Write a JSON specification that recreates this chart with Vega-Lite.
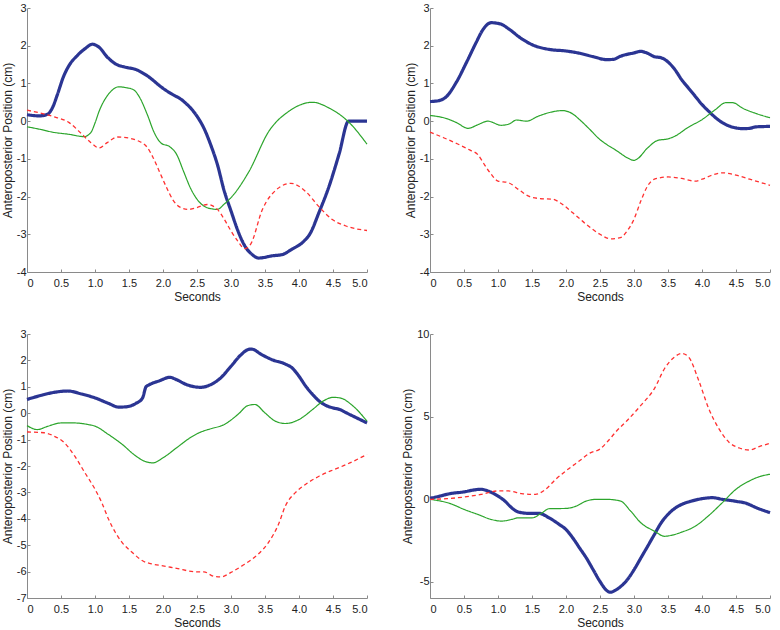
{
"$schema": "https://vega.github.io/schema/vega-lite/v6.json",
"padding": {"left": 1, "top": 2, "right": 5, "bottom": 0},
"config": {
  "view": {"stroke": null},
  "font": "Liberation Sans",
  "axis": {"domainColor": "#8a8a8a", "tickColor": "#8a8a8a", "tickSize": -3, "labelFont": "Liberation Sans", "labelFontSize": 11, "labelColor": "#222", "titleFont": "Liberation Sans", "titleFontSize": 12, "titleFontWeight": "normal", "titleColor": "#222", "grid": false, "labelPadding": 4, "titlePadding": 2},
  "axisX": {"labelPadding": 8, "titlePadding": 3}
},
"columns": 2,
"spacing": {"row": 26, "column": 27},
"datasets": {
"p1": [
{"t":0,"v":0.17,"s":"b"},{"t":0.18,"v":0.14,"s":"b"},{"t":0.3,"v":0.18,"s":"b"},{"t":0.37,"v":0.34,"s":"b"},{"t":0.45,"v":0.72,"s":"b"},{"t":0.53,"v":1.15,"s":"b"},{"t":0.62,"v":1.48,"s":"b"},{"t":0.74,"v":1.74,"s":"b"},{"t":0.86,"v":1.93,"s":"b"},{"t":0.96,"v":2.04,"s":"b"},{"t":1.06,"v":1.96,"s":"b"},{"t":1.18,"v":1.7,"s":"b"},{"t":1.3,"v":1.52,"s":"b"},{"t":1.45,"v":1.43,"s":"b"},{"t":1.6,"v":1.37,"s":"b"},{"t":1.77,"v":1.2,"s":"b"},{"t":2.0,"v":0.87,"s":"b"},{"t":2.1,"v":0.75,"s":"b"},{"t":2.3,"v":0.53,"s":"b"},{"t":2.5,"v":0.13,"s":"b"},{"t":2.6,"v":-0.18,"s":"b"},{"t":2.7,"v":-0.62,"s":"b"},{"t":2.8,"v":-1.15,"s":"b"},{"t":2.9,"v":-1.85,"s":"b"},{"t":3.0,"v":-2.38,"s":"b"},{"t":3.1,"v":-2.9,"s":"b"},{"t":3.2,"v":-3.3,"s":"b"},{"t":3.3,"v":-3.52,"s":"b"},{"t":3.41,"v":-3.63,"s":"b"},{"t":3.61,"v":-3.57,"s":"b"},{"t":3.75,"v":-3.54,"s":"b"},{"t":3.9,"v":-3.39,"s":"b"},{"t":4.05,"v":-3.22,"s":"b"},{"t":4.17,"v":-2.96,"s":"b"},{"t":4.29,"v":-2.44,"s":"b"},{"t":4.44,"v":-1.74,"s":"b"},{"t":4.59,"v":-0.87,"s":"b"},{"t":4.73,"v":0,"s":"b"},{"t":5.0,"v":0,"s":"b"},
{"t":0,"v":-0.15,"s":"g"},{"t":0.2,"v":-0.22,"s":"g"},{"t":0.37,"v":-0.29,"s":"g"},{"t":0.62,"v":-0.35,"s":"g"},{"t":0.84,"v":-0.41,"s":"g"},{"t":0.94,"v":-0.3,"s":"g"},{"t":1.0,"v":-0.05,"s":"g"},{"t":1.06,"v":0.26,"s":"g"},{"t":1.21,"v":0.74,"s":"g"},{"t":1.35,"v":0.91,"s":"g"},{"t":1.45,"v":0.89,"s":"g"},{"t":1.57,"v":0.83,"s":"g"},{"t":1.65,"v":0.65,"s":"g"},{"t":1.77,"v":0.17,"s":"g"},{"t":1.87,"v":-0.3,"s":"g"},{"t":1.97,"v":-0.58,"s":"g"},{"t":2.1,"v":-0.68,"s":"g"},{"t":2.2,"v":-0.88,"s":"g"},{"t":2.3,"v":-1.32,"s":"g"},{"t":2.4,"v":-1.76,"s":"g"},{"t":2.5,"v":-2.07,"s":"g"},{"t":2.6,"v":-2.25,"s":"g"},{"t":2.7,"v":-2.32,"s":"g"},{"t":2.8,"v":-2.34,"s":"g"},{"t":2.9,"v":-2.2,"s":"g"},{"t":3.0,"v":-2.03,"s":"g"},{"t":3.26,"v":-1.35,"s":"g"},{"t":3.56,"v":-0.26,"s":"g"},{"t":3.85,"v":0.26,"s":"g"},{"t":4.2,"v":0.5,"s":"g"},{"t":4.44,"v":0.35,"s":"g"},{"t":4.74,"v":-0.04,"s":"g"},{"t":5.0,"v":-0.61,"s":"g"},
{"t":0,"v":0.29,"s":"r"},{"t":0.37,"v":0.13,"s":"r"},{"t":0.62,"v":-0.04,"s":"r"},{"t":0.81,"v":-0.35,"s":"r"},{"t":0.94,"v":-0.57,"s":"r"},{"t":1.06,"v":-0.71,"s":"r"},{"t":1.18,"v":-0.57,"s":"r"},{"t":1.33,"v":-0.42,"s":"r"},{"t":1.5,"v":-0.45,"s":"r"},{"t":1.63,"v":-0.52,"s":"r"},{"t":1.77,"v":-0.7,"s":"r"},{"t":1.85,"v":-0.95,"s":"r"},{"t":1.95,"v":-1.35,"s":"r"},{"t":2.05,"v":-1.75,"s":"r"},{"t":2.15,"v":-2.1,"s":"r"},{"t":2.25,"v":-2.28,"s":"r"},{"t":2.37,"v":-2.34,"s":"r"},{"t":2.5,"v":-2.29,"s":"r"},{"t":2.65,"v":-2.21,"s":"r"},{"t":2.8,"v":-2.34,"s":"r"},{"t":2.9,"v":-2.6,"s":"r"},{"t":3.0,"v":-2.91,"s":"r"},{"t":3.1,"v":-3.18,"s":"r"},{"t":3.2,"v":-3.38,"s":"r"},{"t":3.29,"v":-3.26,"s":"r"},{"t":3.46,"v":-2.35,"s":"r"},{"t":3.66,"v":-1.83,"s":"r"},{"t":3.88,"v":-1.65,"s":"r"},{"t":4.1,"v":-1.87,"s":"r"},{"t":4.29,"v":-2.26,"s":"r"},{"t":4.49,"v":-2.61,"s":"r"},{"t":4.69,"v":-2.78,"s":"r"},{"t":5.0,"v":-2.9,"s":"r"}
],
"p2": [
{"t":0,"v":0.52,"s":"b"},{"t":0.12,"v":0.54,"s":"b"},{"t":0.24,"v":0.65,"s":"b"},{"t":0.39,"v":1.04,"s":"b"},{"t":0.54,"v":1.57,"s":"b"},{"t":0.68,"v":2.09,"s":"b"},{"t":0.78,"v":2.43,"s":"b"},{"t":0.9,"v":2.61,"s":"b"},{"t":1.03,"v":2.58,"s":"b"},{"t":1.17,"v":2.43,"s":"b"},{"t":1.32,"v":2.22,"s":"b"},{"t":1.51,"v":2.02,"s":"b"},{"t":1.76,"v":1.9,"s":"b"},{"t":2.0,"v":1.86,"s":"b"},{"t":2.2,"v":1.8,"s":"b"},{"t":2.4,"v":1.71,"s":"b"},{"t":2.6,"v":1.63,"s":"b"},{"t":2.7,"v":1.64,"s":"b"},{"t":2.8,"v":1.72,"s":"b"},{"t":3.0,"v":1.81,"s":"b"},{"t":3.1,"v":1.85,"s":"b"},{"t":3.2,"v":1.8,"s":"b"},{"t":3.3,"v":1.71,"s":"b"},{"t":3.4,"v":1.68,"s":"b"},{"t":3.5,"v":1.57,"s":"b"},{"t":3.6,"v":1.37,"s":"b"},{"t":3.7,"v":1.1,"s":"b"},{"t":3.8,"v":0.88,"s":"b"},{"t":3.9,"v":0.66,"s":"b"},{"t":4.0,"v":0.44,"s":"b"},{"t":4.1,"v":0.26,"s":"b"},{"t":4.2,"v":0.09,"s":"b"},{"t":4.3,"v":-0.04,"s":"b"},{"t":4.4,"v":-0.13,"s":"b"},{"t":4.5,"v":-0.18,"s":"b"},{"t":4.6,"v":-0.2,"s":"b"},{"t":4.7,"v":-0.19,"s":"b"},{"t":4.8,"v":-0.15,"s":"b"},{"t":5.0,"v":-0.14,"s":"b"},
{"t":0,"v":0.15,"s":"g"},{"t":0.24,"v":0.07,"s":"g"},{"t":0.39,"v":-0.04,"s":"g"},{"t":0.56,"v":-0.19,"s":"g"},{"t":0.71,"v":-0.09,"s":"g"},{"t":0.85,"v":0,"s":"g"},{"t":1.05,"v":-0.11,"s":"g"},{"t":1.17,"v":-0.07,"s":"g"},{"t":1.27,"v":0.03,"s":"g"},{"t":1.42,"v":0,"s":"g"},{"t":1.59,"v":0.13,"s":"g"},{"t":1.76,"v":0.23,"s":"g"},{"t":1.95,"v":0.28,"s":"g"},{"t":2.1,"v":0.19,"s":"g"},{"t":2.2,"v":0.04,"s":"g"},{"t":2.35,"v":-0.22,"s":"g"},{"t":2.5,"v":-0.49,"s":"g"},{"t":2.6,"v":-0.62,"s":"g"},{"t":2.75,"v":-0.79,"s":"g"},{"t":2.9,"v":-0.97,"s":"g"},{"t":3.0,"v":-1.04,"s":"g"},{"t":3.05,"v":-1.0,"s":"g"},{"t":3.2,"v":-0.71,"s":"g"},{"t":3.35,"v":-0.51,"s":"g"},{"t":3.5,"v":-0.47,"s":"g"},{"t":3.6,"v":-0.4,"s":"g"},{"t":3.8,"v":-0.16,"s":"g"},{"t":4.0,"v":0.04,"s":"g"},{"t":4.2,"v":0.31,"s":"g"},{"t":4.35,"v":0.49,"s":"g"},{"t":4.45,"v":0.49,"s":"g"},{"t":4.6,"v":0.34,"s":"g"},{"t":4.8,"v":0.2,"s":"g"},{"t":5.0,"v":0.09,"s":"g"},
{"t":0,"v":-0.29,"s":"r"},{"t":0.2,"v":-0.44,"s":"r"},{"t":0.4,"v":-0.6,"s":"r"},{"t":0.59,"v":-0.77,"s":"r"},{"t":0.7,"v":-0.88,"s":"r"},{"t":0.8,"v":-1.15,"s":"r"},{"t":0.9,"v":-1.41,"s":"r"},{"t":1.0,"v":-1.59,"s":"r"},{"t":1.15,"v":-1.63,"s":"r"},{"t":1.3,"v":-1.81,"s":"r"},{"t":1.45,"v":-1.99,"s":"r"},{"t":1.6,"v":-2.05,"s":"r"},{"t":1.8,"v":-2.07,"s":"r"},{"t":1.95,"v":-2.21,"s":"r"},{"t":2.1,"v":-2.43,"s":"r"},{"t":2.3,"v":-2.74,"s":"r"},{"t":2.5,"v":-3.0,"s":"r"},{"t":2.65,"v":-3.12,"s":"r"},{"t":2.8,"v":-3.09,"s":"r"},{"t":2.9,"v":-2.91,"s":"r"},{"t":3.0,"v":-2.6,"s":"r"},{"t":3.1,"v":-2.12,"s":"r"},{"t":3.2,"v":-1.72,"s":"r"},{"t":3.3,"v":-1.54,"s":"r"},{"t":3.5,"v":-1.48,"s":"r"},{"t":3.7,"v":-1.52,"s":"r"},{"t":3.9,"v":-1.59,"s":"r"},{"t":4.0,"v":-1.54,"s":"r"},{"t":4.15,"v":-1.43,"s":"r"},{"t":4.3,"v":-1.37,"s":"r"},{"t":4.5,"v":-1.43,"s":"r"},{"t":4.7,"v":-1.54,"s":"r"},{"t":5.0,"v":-1.7,"s":"r"}
],
"p3": [
{"t":0,"v":0.52,"s":"b"},{"t":0.2,"v":0.67,"s":"b"},{"t":0.4,"v":0.79,"s":"b"},{"t":0.6,"v":0.84,"s":"b"},{"t":0.8,"v":0.73,"s":"b"},{"t":1.0,"v":0.58,"s":"b"},{"t":1.2,"v":0.37,"s":"b"},{"t":1.35,"v":0.23,"s":"b"},{"t":1.45,"v":0.24,"s":"b"},{"t":1.6,"v":0.37,"s":"b"},{"t":1.7,"v":0.58,"s":"b"},{"t":1.75,"v":1.0,"s":"b"},{"t":1.8,"v":1.08,"s":"b"},{"t":1.95,"v":1.23,"s":"b"},{"t":2.1,"v":1.36,"s":"b"},{"t":2.2,"v":1.27,"s":"b"},{"t":2.35,"v":1.08,"s":"b"},{"t":2.55,"v":0.98,"s":"b"},{"t":2.7,"v":1.08,"s":"b"},{"t":2.85,"v":1.34,"s":"b"},{"t":3.0,"v":1.78,"s":"b"},{"t":3.15,"v":2.22,"s":"b"},{"t":3.25,"v":2.41,"s":"b"},{"t":3.3,"v":2.43,"s":"b"},{"t":3.45,"v":2.22,"s":"b"},{"t":3.6,"v":2.03,"s":"b"},{"t":3.8,"v":1.86,"s":"b"},{"t":3.9,"v":1.71,"s":"b"},{"t":4.0,"v":1.4,"s":"b"},{"t":4.1,"v":1.02,"s":"b"},{"t":4.2,"v":0.71,"s":"b"},{"t":4.3,"v":0.45,"s":"b"},{"t":4.4,"v":0.29,"s":"b"},{"t":4.5,"v":0.2,"s":"b"},{"t":4.6,"v":0.14,"s":"b"},{"t":4.7,"v":0.01,"s":"b"},{"t":4.85,"v":-0.18,"s":"b"},{"t":5.0,"v":-0.37,"s":"b"},
{"t":0,"v":-0.47,"s":"g"},{"t":0.15,"v":-0.62,"s":"g"},{"t":0.3,"v":-0.5,"s":"g"},{"t":0.5,"v":-0.37,"s":"g"},{"t":0.7,"v":-0.37,"s":"g"},{"t":0.9,"v":-0.43,"s":"g"},{"t":1.0,"v":-0.49,"s":"g"},{"t":1.2,"v":-0.81,"s":"g"},{"t":1.4,"v":-1.18,"s":"g"},{"t":1.6,"v":-1.62,"s":"g"},{"t":1.75,"v":-1.84,"s":"g"},{"t":1.85,"v":-1.88,"s":"g"},{"t":2.0,"v":-1.69,"s":"g"},{"t":2.2,"v":-1.31,"s":"g"},{"t":2.4,"v":-0.93,"s":"g"},{"t":2.55,"v":-0.72,"s":"g"},{"t":2.7,"v":-0.59,"s":"g"},{"t":2.9,"v":-0.43,"s":"g"},{"t":3.1,"v":-0.05,"s":"g"},{"t":3.25,"v":0.29,"s":"g"},{"t":3.35,"v":0.33,"s":"g"},{"t":3.5,"v":0.01,"s":"g"},{"t":3.65,"v":-0.3,"s":"g"},{"t":3.8,"v":-0.39,"s":"g"},{"t":4.0,"v":-0.24,"s":"g"},{"t":4.2,"v":0.14,"s":"g"},{"t":4.35,"v":0.45,"s":"g"},{"t":4.5,"v":0.6,"s":"g"},{"t":4.6,"v":0.58,"s":"g"},{"t":4.8,"v":0.26,"s":"g"},{"t":5.0,"v":-0.3,"s":"g"},
{"t":0,"v":-0.71,"s":"r"},{"t":0.25,"v":-0.74,"s":"r"},{"t":0.4,"v":-0.87,"s":"r"},{"t":0.55,"v":-1.12,"s":"r"},{"t":0.7,"v":-1.62,"s":"r"},{"t":0.85,"v":-2.25,"s":"r"},{"t":1.0,"v":-2.88,"s":"r"},{"t":1.1,"v":-3.39,"s":"r"},{"t":1.2,"v":-4.02,"s":"r"},{"t":1.3,"v":-4.52,"s":"r"},{"t":1.4,"v":-4.9,"s":"r"},{"t":1.55,"v":-5.28,"s":"r"},{"t":1.7,"v":-5.59,"s":"r"},{"t":1.85,"v":-5.72,"s":"r"},{"t":2.0,"v":-5.78,"s":"r"},{"t":2.2,"v":-5.88,"s":"r"},{"t":2.5,"v":-6.01,"s":"r"},{"t":2.6,"v":-6.01,"s":"r"},{"t":2.75,"v":-6.18,"s":"r"},{"t":2.85,"v":-6.2,"s":"r"},{"t":3.0,"v":-6.03,"s":"r"},{"t":3.2,"v":-5.72,"s":"r"},{"t":3.4,"v":-5.34,"s":"r"},{"t":3.55,"v":-4.9,"s":"r"},{"t":3.7,"v":-4.2,"s":"r"},{"t":3.8,"v":-3.51,"s":"r"},{"t":3.95,"v":-3.0,"s":"r"},{"t":4.1,"v":-2.69,"s":"r"},{"t":4.3,"v":-2.38,"s":"r"},{"t":4.5,"v":-2.15,"s":"r"},{"t":4.7,"v":-1.94,"s":"r"},{"t":5.0,"v":-1.56,"s":"r"}
],
"p4": [
{"t":0,"v":0.04,"s":"b"},{"t":0.15,"v":0.18,"s":"b"},{"t":0.3,"v":0.33,"s":"b"},{"t":0.5,"v":0.43,"s":"b"},{"t":0.65,"v":0.55,"s":"b"},{"t":0.75,"v":0.59,"s":"b"},{"t":0.85,"v":0.49,"s":"b"},{"t":1.0,"v":0.18,"s":"b"},{"t":1.1,"v":-0.12,"s":"b"},{"t":1.2,"v":-0.53,"s":"b"},{"t":1.3,"v":-0.79,"s":"b"},{"t":1.45,"v":-0.87,"s":"b"},{"t":1.6,"v":-0.87,"s":"b"},{"t":1.75,"v":-1.14,"s":"b"},{"t":1.9,"v":-1.54,"s":"b"},{"t":2.0,"v":-1.85,"s":"b"},{"t":2.1,"v":-2.36,"s":"b"},{"t":2.2,"v":-2.97,"s":"b"},{"t":2.3,"v":-3.58,"s":"b"},{"t":2.4,"v":-4.29,"s":"b"},{"t":2.5,"v":-5.0,"s":"b"},{"t":2.6,"v":-5.55,"s":"b"},{"t":2.65,"v":-5.65,"s":"b"},{"t":2.75,"v":-5.47,"s":"b"},{"t":2.9,"v":-4.9,"s":"b"},{"t":3.0,"v":-4.29,"s":"b"},{"t":3.1,"v":-3.58,"s":"b"},{"t":3.2,"v":-2.87,"s":"b"},{"t":3.3,"v":-2.15,"s":"b"},{"t":3.4,"v":-1.44,"s":"b"},{"t":3.5,"v":-0.93,"s":"b"},{"t":3.6,"v":-0.57,"s":"b"},{"t":3.7,"v":-0.33,"s":"b"},{"t":3.85,"v":-0.12,"s":"b"},{"t":4.0,"v":0.02,"s":"b"},{"t":4.15,"v":0.08,"s":"b"},{"t":4.3,"v":-0.02,"s":"b"},{"t":4.5,"v":-0.14,"s":"b"},{"t":4.65,"v":-0.26,"s":"b"},{"t":4.8,"v":-0.53,"s":"b"},{"t":5.0,"v":-0.83,"s":"b"},
{"t":0,"v":-0.02,"s":"g"},{"t":0.3,"v":-0.28,"s":"g"},{"t":0.5,"v":-0.63,"s":"g"},{"t":0.7,"v":-0.93,"s":"g"},{"t":0.9,"v":-1.24,"s":"g"},{"t":1.05,"v":-1.34,"s":"g"},{"t":1.2,"v":-1.24,"s":"g"},{"t":1.3,"v":-1.14,"s":"g"},{"t":1.5,"v":-1.14,"s":"g"},{"t":1.65,"v":-0.83,"s":"g"},{"t":1.75,"v":-0.59,"s":"g"},{"t":2.0,"v":-0.57,"s":"g"},{"t":2.15,"v":-0.43,"s":"g"},{"t":2.3,"v":-0.12,"s":"g"},{"t":2.45,"v":-0.02,"s":"g"},{"t":2.6,"v":-0.02,"s":"g"},{"t":2.8,"v":-0.12,"s":"g"},{"t":2.95,"v":-0.73,"s":"g"},{"t":3.1,"v":-1.44,"s":"g"},{"t":3.3,"v":-1.95,"s":"g"},{"t":3.45,"v":-2.26,"s":"g"},{"t":3.55,"v":-2.2,"s":"g"},{"t":3.7,"v":-2.01,"s":"g"},{"t":3.9,"v":-1.65,"s":"g"},{"t":4.1,"v":-1.0,"s":"g"},{"t":4.3,"v":-0.22,"s":"g"},{"t":4.5,"v":0.59,"s":"g"},{"t":4.7,"v":1.1,"s":"g"},{"t":4.85,"v":1.36,"s":"g"},{"t":5.0,"v":1.5,"s":"g"},
{"t":0,"v":-0.02,"s":"r"},{"t":0.25,"v":0.02,"s":"r"},{"t":0.5,"v":0.12,"s":"r"},{"t":0.75,"v":0.28,"s":"r"},{"t":1.0,"v":0.49,"s":"r"},{"t":1.15,"v":0.49,"s":"r"},{"t":1.35,"v":0.33,"s":"r"},{"t":1.55,"v":0.28,"s":"r"},{"t":1.7,"v":0.59,"s":"r"},{"t":1.85,"v":1.2,"s":"r"},{"t":2.0,"v":1.71,"s":"r"},{"t":2.2,"v":2.32,"s":"r"},{"t":2.35,"v":2.78,"s":"r"},{"t":2.5,"v":3.03,"s":"r"},{"t":2.6,"v":3.43,"s":"r"},{"t":2.75,"v":4.15,"s":"r"},{"t":2.9,"v":4.76,"s":"r"},{"t":3.1,"v":5.67,"s":"r"},{"t":3.3,"v":6.69,"s":"r"},{"t":3.45,"v":7.91,"s":"r"},{"t":3.6,"v":8.62,"s":"r"},{"t":3.7,"v":8.82,"s":"r"},{"t":3.8,"v":8.62,"s":"r"},{"t":3.95,"v":7.2,"s":"r"},{"t":4.1,"v":5.47,"s":"r"},{"t":4.25,"v":4.25,"s":"r"},{"t":4.4,"v":3.43,"s":"r"},{"t":4.55,"v":3.09,"s":"r"},{"t":4.7,"v":2.97,"s":"r"},{"t":4.85,"v":3.19,"s":"r"},{"t":5.0,"v":3.37,"s":"r"}
]
},
"concat": [
{"width": 340, "height": 264, "data": {"name": "p1"}, "mark": {"type": "line", "interpolate": "monotone"},
 "encoding": {
  "x": {"field": "t", "type": "quantitative", "scale": {"domain": [0, 5], "nice": false}, "axis": {"values": [0,0.5,1,1.5,2,2.5,3,3.5,4,4.5,5], "labelExpr": "datum.value == 0 ? '0' : format(datum.value, '.1f')", "title": "Seconds"}},
  "y": {"field": "v", "type": "quantitative", "scale": {"domain": [-4, 3], "nice": false}, "axis": {"values": [-4,-3,-2,-1,0,1,2,3], "labelExpr": "'' + datum.value", "title": "Anteroposterior Position (cm)"}},
  "color": {"field": "s", "type": "nominal", "scale": {"domain": ["b","g","r"], "range": ["#2b3593","#2ca52c","#ff3030"]}, "legend": null},
  "strokeDash": {"field": "s", "type": "nominal", "scale": {"domain": ["b","g","r"], "range": [[1,0],[1,0],[4,3]]}, "legend": null},
  "strokeWidth": {"field": "s", "type": "ordinal", "scale": {"type": "ordinal", "domain": ["b","g","r"], "range": [3.2,1.2,1.3]}, "legend": null}
 }},
{"width": 340, "height": 264, "data": {"name": "p2"}, "mark": {"type": "line", "interpolate": "monotone"},
 "encoding": {
  "x": {"field": "t", "type": "quantitative", "scale": {"domain": [0, 5], "nice": false}, "axis": {"values": [0,0.5,1,1.5,2,2.5,3,3.5,4,4.5,5], "labelExpr": "datum.value == 0 ? '0' : format(datum.value, '.1f')", "title": "Seconds"}},
  "y": {"field": "v", "type": "quantitative", "scale": {"domain": [-4, 3], "nice": false}, "axis": {"values": [-4,-3,-2,-1,0,1,2,3], "labelExpr": "'' + datum.value", "title": "Anteroposterior Position (cm)"}},
  "color": {"field": "s", "type": "nominal", "scale": {"domain": ["b","g","r"], "range": ["#2b3593","#2ca52c","#ff3030"]}, "legend": null},
  "strokeDash": {"field": "s", "type": "nominal", "scale": {"domain": ["b","g","r"], "range": [[1,0],[1,0],[4,3]]}, "legend": null},
  "strokeWidth": {"field": "s", "type": "ordinal", "scale": {"type": "ordinal", "domain": ["b","g","r"], "range": [3.2,1.2,1.3]}, "legend": null}
 }},
{"width": 340, "height": 264, "data": {"name": "p3"}, "mark": {"type": "line", "interpolate": "monotone"},
 "encoding": {
  "x": {"field": "t", "type": "quantitative", "scale": {"domain": [0, 5], "nice": false}, "axis": {"values": [0,0.5,1,1.5,2,2.5,3,3.5,4,4.5,5], "labelExpr": "datum.value == 0 ? '0' : format(datum.value, '.1f')", "title": "Seconds"}},
  "y": {"field": "v", "type": "quantitative", "scale": {"domain": [-7, 3], "nice": false}, "axis": {"values": [-7,-6,-5,-4,-3,-2,-1,0,1,2,3], "labelExpr": "'' + datum.value", "title": "Anteroposterior Position (cm)"}},
  "color": {"field": "s", "type": "nominal", "scale": {"domain": ["b","g","r"], "range": ["#2b3593","#2ca52c","#ff3030"]}, "legend": null},
  "strokeDash": {"field": "s", "type": "nominal", "scale": {"domain": ["b","g","r"], "range": [[1,0],[1,0],[4,3]]}, "legend": null},
  "strokeWidth": {"field": "s", "type": "ordinal", "scale": {"type": "ordinal", "domain": ["b","g","r"], "range": [3.2,1.2,1.3]}, "legend": null}
 }},
{"width": 340, "height": 264, "data": {"name": "p4"}, "mark": {"type": "line", "interpolate": "monotone"},
 "encoding": {
  "x": {"field": "t", "type": "quantitative", "scale": {"domain": [0, 5], "nice": false}, "axis": {"values": [0,0.5,1,1.5,2,2.5,3,3.5,4,4.5,5], "labelExpr": "datum.value == 0 ? '0' : format(datum.value, '.1f')", "title": "Seconds"}},
  "y": {"field": "v", "type": "quantitative", "scale": {"domain": [-6, 10], "nice": false}, "axis": {"values": [-5,0,5,10], "labelExpr": "'' + datum.value", "title": "Anteroposterior Position (cm)"}},
  "color": {"field": "s", "type": "nominal", "scale": {"domain": ["b","g","r"], "range": ["#2b3593","#2ca52c","#ff3030"]}, "legend": null},
  "strokeDash": {"field": "s", "type": "nominal", "scale": {"domain": ["b","g","r"], "range": [[1,0],[1,0],[4,3]]}, "legend": null},
  "strokeWidth": {"field": "s", "type": "ordinal", "scale": {"type": "ordinal", "domain": ["b","g","r"], "range": [3.2,1.2,1.3]}, "legend": null}
 }}
],
"resolve": {"scale": {"y": "independent", "x": "independent"}}
}
